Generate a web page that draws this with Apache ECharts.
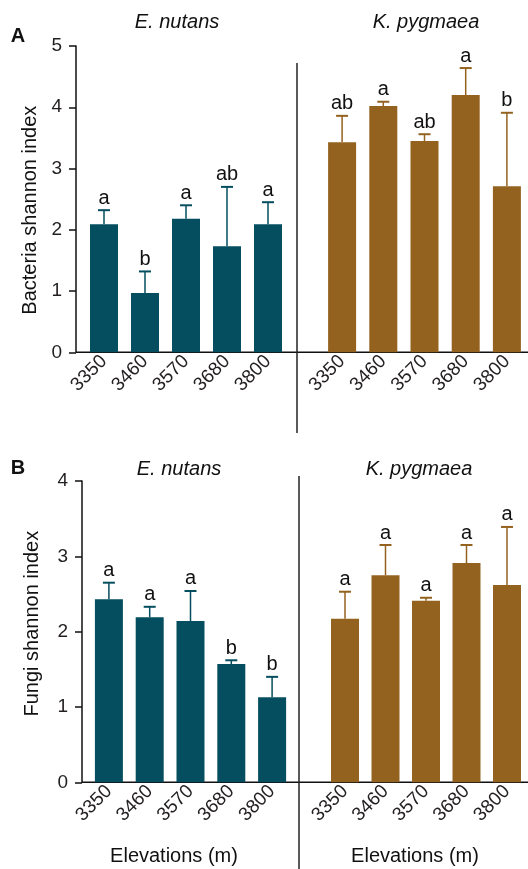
<!DOCTYPE html>
<html>
<head>
<meta charset="utf-8">
<script src="https://cdn.jsdelivr.net/npm/echarts@6/dist/echarts.min.js"></script>
<style>
  html, body { margin: 0; padding: 0; background: #fff; }
  #chart { width: 528px; height: 869px; }
</style>
</head>
<body>
<div id="chart"></div>
<script>
// elevations (m)
const elevations = ['3350', '3460', '3570', '3680', '3800']

// A: bacteria shannon index (mean, upper error)
const bacEnMean = [2.09, 0.97, 2.18, 1.73, 2.09]
const bacEnErr = [0.23, 0.35, 0.22, 0.97, 0.36]
const bacEnLetters = ['a', 'b', 'a', 'ab', 'a']
const bacKpMean = [3.43, 4.02, 3.45, 4.20, 2.71]
const bacKpErr = [0.43, 0.07, 0.11, 0.44, 1.20]
const bacKpLetters = ['ab', 'a', 'ab', 'a', 'b']

// B: fungi shannon index
const funEnMean = [2.43, 2.19, 2.14, 1.57, 1.13]
const funEnErr = [0.22, 0.14, 0.40, 0.05, 0.27]
const funEnLetters = ['a', 'a', 'a', 'b', 'b']
const funKpMean = [2.17, 2.75, 2.41, 2.91, 2.62]
const funKpErr = [0.36, 0.40, 0.04, 0.24, 0.77]
const funKpLetters = ['a', 'a', 'a', 'a', 'a']

const TEAL = '#054e5f'
const BROWN = '#94621f'
const FONT = "'Liberation Sans', Arial, sans-serif"
const INK = '#231f20'

// plot boxes
const A_TOP = 46, A_BOT = 352.3
const B_TOP = 481, B_BOT = 782.3

const chart = echarts.init(document.getElementById('chart'))

function errorRender(letters, color) {
  return function(params, api) {
    const i = api.value(0)
    const base = api.coord([i, api.value(1)])
    const top = api.coord([i, api.value(2)])
    return {
      type: 'group',
      children: [
        { type: 'line', shape: { x1: base[0], y1: base[1], x2: top[0], y2: top[1] },
          style: { stroke: color, lineWidth: 1.5 } },
        { type: 'line', shape: { x1: top[0] - 6, y1: top[1], x2: top[0] + 6, y2: top[1] },
          style: { stroke: color, lineWidth: 2 } },
        { type: 'text', x: top[0], y: top[1] - 2,
          style: { text: letters[params.dataIndex], fill: '#111', font: '20px ' + FONT,
            align: 'center', verticalAlign: 'bottom' } }
      ]
    }
  }
}

function errData(mean, err) {
  return mean.map((m, i) => [i, m, +(m + err[i]).toFixed(2)])
}

function xAxisOf(gridIndex) {
  return {
    type: 'category', gridIndex: gridIndex, data: elevations,
    axisLine: { show: false }, axisTick: { show: false },
    axisLabel: { rotate: 45, fontSize: 19, color: INK, fontFamily: FONT, margin: 6 }
  }
}

function yAxisOf(gridIndex, max, offset, name, nameGap, pad, show) {
  return {
    type: 'value', gridIndex: gridIndex, min: 0, max: max, interval: 1,
    offset: offset, show: show,
    name: name, nameLocation: 'middle', nameGap: nameGap,
    nameTextStyle: { fontSize: 20, color: '#111', fontFamily: FONT, padding: pad },
    axisLine: { show: true, lineStyle: { color: '#111', width: 1.5 } },
    axisTick: { show: true, length: 7, lineStyle: { color: '#111', width: 1.5 } },
    axisLabel: { fontSize: 19, color: INK, fontFamily: FONT, margin: 14 },
    splitLine: { show: false }
  }
}

function titleAt(text, x, y, italic, bold) {
  return {
    text: text, left: x, top: y, textAlign: 'center', padding: 0,
    textStyle: { fontSize: 20, fontWeight: bold ? 'bold' : 'normal',
      fontStyle: italic ? 'italic' : 'normal', color: '#111', fontFamily: FONT }
  }
}

const option = {
  animation: false,
  backgroundColor: '#fff',
  title: [
    titleAt('E. nutans', 177, 12, true),
    titleAt('K. pygmaea', 426, 12, true),
    titleAt('E. nutans', 179, 459, true),
    titleAt('K. pygmaea', 419, 459, true),
    titleAt('Elevations (m)', 174, 846, false),
    titleAt('Elevations (m)', 415, 846, false),
    titleAt('A', 18, 26, false, true),
    titleAt('B', 18, 458, false, true)
  ],
  grid: [
    { left: 83.5, top: A_TOP, width: 205, height: A_BOT - A_TOP },
    { left: 321.5, top: A_TOP, width: 206, height: A_BOT - A_TOP },
    { left: 88.5, top: B_TOP, width: 204, height: B_BOT - B_TOP },
    { left: 324.75, top: B_TOP, width: 202.5, height: B_BOT - B_TOP }
  ],
  xAxis: [xAxisOf(0), xAxisOf(1), xAxisOf(2), xAxisOf(3)],
  yAxis: [
    yAxisOf(0, 5, 7.5, 'Bacteria shannon index', 36, [0, 22, 0, 0], true),
    yAxisOf(1, 5, 0, '', 0, 0, false),
    yAxisOf(2, 4, 6.5, 'Fungi shannon index', 40, [0, 0, 0, 16], true),
    yAxisOf(3, 4, 0, '', 0, 0, false)
  ],
  graphic: [
    // baselines and panel separators
    { type: 'line', shape: { x1: 76, y1: A_BOT, x2: 528, y2: A_BOT }, style: { stroke: '#111', lineWidth: 1.5 } },
    { type: 'line', shape: { x1: 297, y1: 63, x2: 297, y2: 433 }, style: { stroke: '#222', lineWidth: 1.5 } },
    { type: 'line', shape: { x1: 82, y1: B_BOT, x2: 528, y2: B_BOT }, style: { stroke: '#111', lineWidth: 1.5 } },
    { type: 'line', shape: { x1: 299, y1: 476, x2: 299, y2: 869 }, style: { stroke: '#222', lineWidth: 1.5 } }
  ],
  series: [
    { type: 'bar', xAxisIndex: 0, yAxisIndex: 0, data: bacEnMean, barWidth: 28, itemStyle: { color: TEAL } },
    { type: 'bar', xAxisIndex: 1, yAxisIndex: 1, data: bacKpMean, barWidth: 28, itemStyle: { color: BROWN } },
    { type: 'bar', xAxisIndex: 2, yAxisIndex: 2, data: funEnMean, barWidth: 28, itemStyle: { color: TEAL } },
    { type: 'bar', xAxisIndex: 3, yAxisIndex: 3, data: funKpMean, barWidth: 28, itemStyle: { color: BROWN } },
    { type: 'custom', xAxisIndex: 0, yAxisIndex: 0, z: 5, data: errData(bacEnMean, bacEnErr), renderItem: errorRender(bacEnLetters, TEAL) },
    { type: 'custom', xAxisIndex: 1, yAxisIndex: 1, z: 5, data: errData(bacKpMean, bacKpErr), renderItem: errorRender(bacKpLetters, BROWN) },
    { type: 'custom', xAxisIndex: 2, yAxisIndex: 2, z: 5, data: errData(funEnMean, funEnErr), renderItem: errorRender(funEnLetters, TEAL) },
    { type: 'custom', xAxisIndex: 3, yAxisIndex: 3, z: 5, data: errData(funKpMean, funKpErr), renderItem: errorRender(funKpLetters, BROWN) }
  ]
}

chart.setOption(option)
</script>
</body>
</html>
